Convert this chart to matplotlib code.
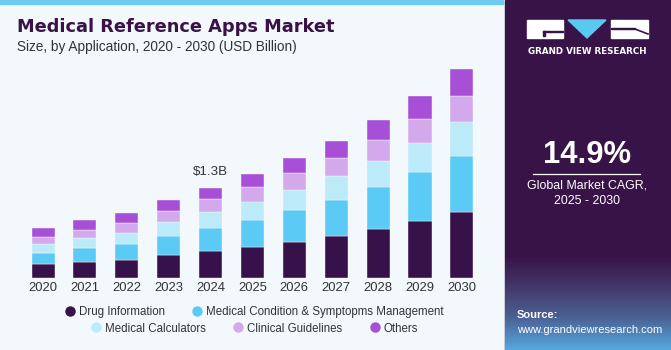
import matplotlib
matplotlib.use("Agg")
import matplotlib.pyplot as plt
import numpy as np
from matplotlib.patches import Rectangle, Polygon
from matplotlib.colors import LinearSegmentedColormap
from matplotlib.lines import Line2D

# data (USD billion)
years = ["2020", "2021", "2022", "2023", "2024", "2025", "2026", "2027", "2028", "2029", "2030"]
drug_info = [0.20, 0.24, 0.27, 0.33, 0.395, 0.455, 0.53, 0.615, 0.715, 0.83, 0.955]
condition = [0.17, 0.20, 0.23, 0.285, 0.33, 0.385, 0.45, 0.52, 0.60, 0.70, 0.815]
calculators = [0.13, 0.145, 0.16, 0.20, 0.235, 0.265, 0.30, 0.34, 0.385, 0.43, 0.485]
guidelines = [0.09, 0.115, 0.14, 0.16, 0.185, 0.21, 0.245, 0.27, 0.305, 0.345, 0.385]
others = [0.14, 0.145, 0.145, 0.155, 0.16, 0.19, 0.21, 0.245, 0.29, 0.33, 0.38]

series_names = ["Drug Information", "Medical Condition & Symptopms Management",
                "Medical Calculators", "Clinical Guidelines", "Others"]
series_colors = ["#37114a", "#5bcbf5", "#bdeaf9", "#d4a9ec", "#a74fd6"]
label_year = "2024"
label_text = "$1.3B"

W, H = 671, 350
fig = plt.figure(figsize=(W / 100, H / 100), dpi=100)

# background layer in pixel coordinates
bg = fig.add_axes([0, 0, 1, 1])
bg.set_xlim(0, W)
bg.set_ylim(H, 0)
bg.axis("off")
bg.add_patch(Rectangle((0, 0), 505, H, color="#f3f8fc", zorder=0))
bg.add_patch(Rectangle((0, 0), 503, 4, color="#6ecbf1", zorder=1))
bg.add_patch(Rectangle((505, 0), W - 505, H, color="#371347", zorder=1))

# bottom gradient of the side panel
cmap = LinearSegmentedColormap.from_list("panel", [(0, "#371347"), (0.3, "#433466"),
                                                   (0.65, "#4b5f92"), (1, "#55a8de")])
grad = np.linspace(0, 1, 100).reshape(-1, 1)
bg.imshow(grad, cmap=cmap, extent=(505, W, H, 255), aspect="auto", zorder=2)

# logo
bg.add_patch(Rectangle((527, 20), 36, 18, color="white", zorder=3))
bg.add_patch(Rectangle((543, 30.5), 20, 1.5, color="#371347", zorder=4))
bg.add_patch(Rectangle((543, 30.5), 1.5, 5, color="#371347", zorder=4))
bg.add_patch(Polygon([(568, 20), (606, 20), (587, 38)], closed=True, color="#5bc8f2", zorder=3))
bg.add_patch(Rectangle((611, 20), 37, 18, color="white", zorder=3))
bg.plot([635, 648], [29, 34], color="#371347", lw=1.2, zorder=4)
bg.add_patch(Rectangle((611, 27.5), 24, 1.5, color="#371347", zorder=4))
bg.text(587.5, 51, "GRAND VIEW RESEARCH", color="white", fontsize=6.3,
        fontweight="bold", ha="center", va="center", zorder=5)

bg.text(587, 155, "14.9%", color="white", fontsize=22.3, fontweight="bold",
        family="Liberation Sans", ha="center", va="center", zorder=5)
bg.plot([533, 640], [173.5, 173.5], color="white", lw=0.9, zorder=5)
bg.text(587, 185, "Global Market CAGR,", color="white", fontsize=8.9,
        family="Liberation Sans", ha="center", va="center", zorder=5)
bg.text(587, 201, "2025 - 2030", color="white", fontsize=8.9,
        family="Liberation Sans", ha="center", va="center", zorder=5)
bg.text(517, 315, "Source:", color="white", fontsize=8, fontweight="bold",
        family="Liberation Sans", ha="left", va="center", zorder=5)
bg.text(517, 330, "www.grandviewresearch.com", color="white", fontsize=8,
        family="Liberation Sans", ha="left", va="center", zorder=5)

# titles
bg.text(17, 27, "Medical Reference Apps Market", color="#3a1248", fontsize=12.8,
        fontweight="heavy", ha="left", va="center", zorder=5)
bg.text(17, 47, "Size, by Application, 2020 - 2030 (USD Billion)", color="#333333",
        fontsize=9.8, family="Liberation Sans", ha="left", va="center", zorder=5)

# bar chart
ax = fig.add_axes([17.9 / W, (H - 278.3) / H, (487 - 17.9) / W, (278.3 - 40) / H])
ax.patch.set_alpha(0)
x = np.arange(len(years))
bottom = np.zeros(len(years))
for vals, col, name in zip([drug_info, condition, calculators, guidelines, others],
                           series_colors, series_names):
    ax.bar(x, vals, width=0.55, bottom=bottom, color=col, edgecolor="#f3f8fc",
           linewidth=0.3, label=name)
    bottom += np.array(vals)

i = years.index(label_year)
ax.annotate(label_text, (x[i], bottom[i]), xytext=(0, 7), textcoords="offset points",
            ha="center", va="bottom", fontsize=9.6, family="Liberation Sans", color="#333333")

ax.set_xlim(-0.6, len(years) - 0.4)
ax.set_ylim(0, 3.444)
ax.set_xticks(x)
ax.set_xticklabels(years, fontsize=9.4, family="Liberation Sans", color="#333333")
ax.tick_params(axis="x", length=0, pad=3)
ax.set_yticks([])
for s in ax.spines.values():
    s.set_visible(False)

# legend in two rows
handles = [Line2D([], [], marker="o", linestyle="", markersize=6.5, color=c) for c in series_colors]
leg_kw = dict(frameon=False, handletextpad=0.3, columnspacing=2.3, handlelength=1.0,
              prop={"family": "Liberation Sans", "size": 8.3}, labelcolor="#333333")
leg1 = fig.legend(handles[:2], series_names[:2], ncol=2, loc="center",
                  bbox_to_anchor=(254 / W, 1 - 312.5 / H), **leg_kw)
leg2 = fig.legend(handles[2:], series_names[2:], ncol=3, loc="center",
                  bbox_to_anchor=(254 / W, 1 - 328.5 / H), **leg_kw)

fig.savefig("out.png", dpi=100)
